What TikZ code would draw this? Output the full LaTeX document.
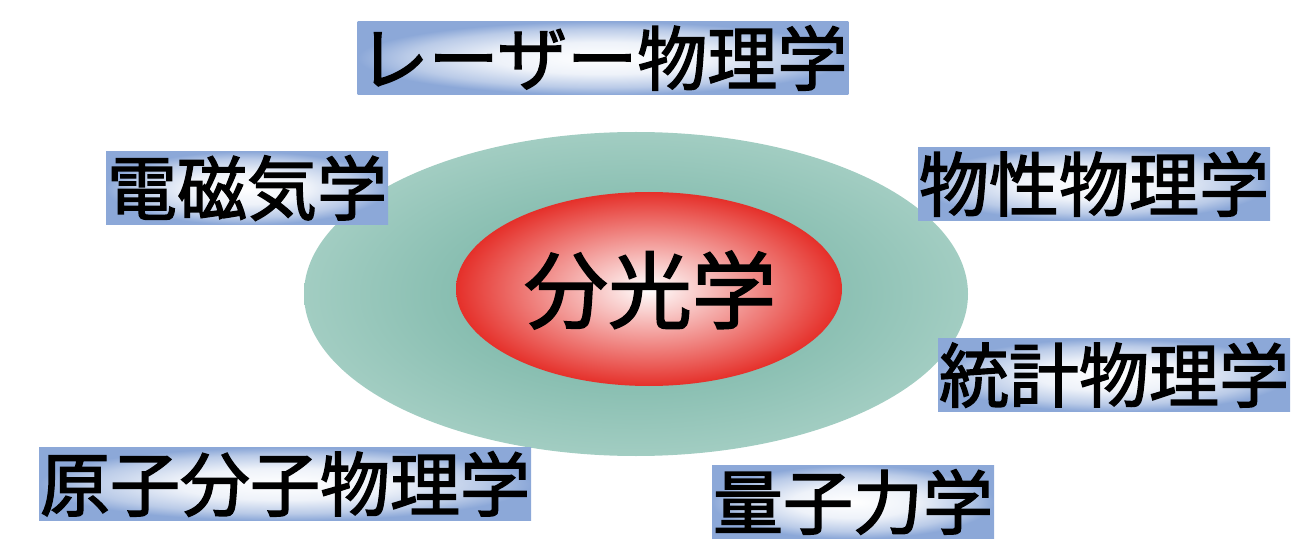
\documentclass[tikz,border=0pt]{standalone}
\usepackage{fontspec}
\setmainfont{Noto Sans CJK JP}[FakeBold=2]
\usepackage{tikz}
\usetikzlibrary{shapes.geometric}

\definecolor{fieldblue}{HTML}{8CA8D8}
\definecolor{tealdark}{HTML}{69AC9C}
\definecolor{teallight}{HTML}{A2CDC2}
\definecolor{corered}{HTML}{E5302A}

\pgfdeclareradialshading{fieldglow}{\pgfpoint{0bp}{0bp}}{%
  color(0bp)=(white); color(11bp)=(fieldblue!15); color(20bp)=(fieldblue!60);
  color(25bp)=(fieldblue); color(50bp)=(fieldblue)}

\tikzset{
  field/.style={rectangle, inner xsep=1pt, inner ysep=0pt, minimum height=73pt,
    shading=fieldglow, font=\fontsize{70}{70}\selectfont},
}

\begin{document}
\begin{tikzpicture}[x=1pt,y=-1pt]
   \useasboundingbox (0,0) rectangle (1291,540);

   \shade[inner color=tealdark, outer color=teallight] (636,294) ellipse (332 and 162);
   \shade[inner color=white, outer color=corered] (649,289) ellipse (193 and 97);
   \draw (650,290) node (spectroscopy) {\fontsize{84}{84}\selectfont 分光学};

   \draw (603,58) node[field] (laser) {レーザー物理学};
   \draw (247,188) node[field] (electromagnetism) {電磁気学};
   \draw (1094,184) node[field] (condensed) {物性物理学};
   \draw (1114,375) node[field] (statistical) {統計物理学};
   \draw (285,484) node[field] (atomic) {原子分子物理学};
   \draw (853,502) node[field] (quantum) {量子力学};

\end{tikzpicture}
\end{document}
